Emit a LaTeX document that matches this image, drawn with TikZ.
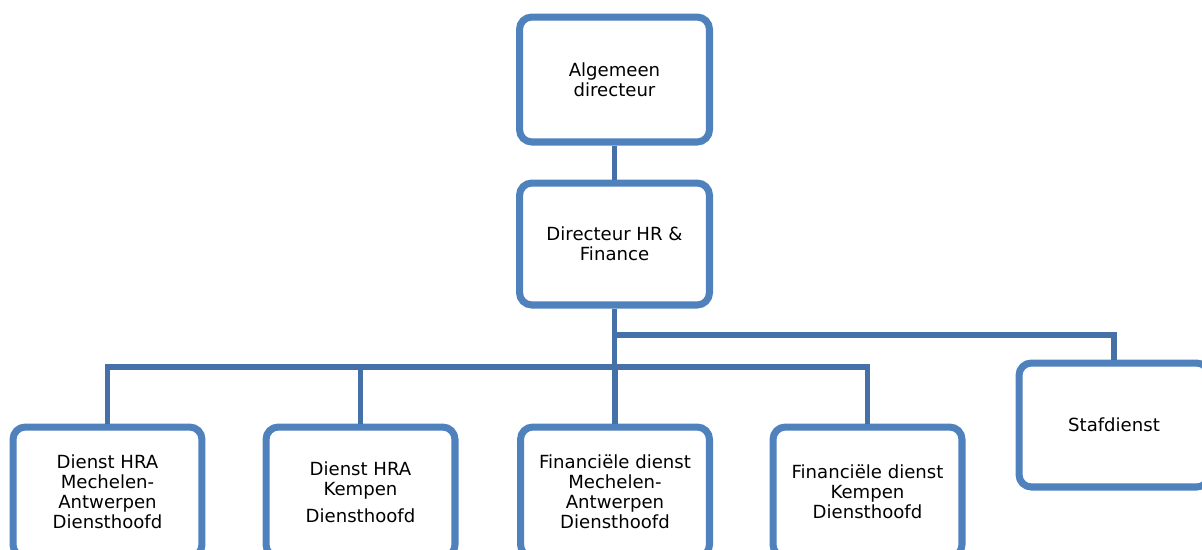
\documentclass[tikz,border=0pt]{standalone}
\usepackage{fontspec}
\setmainfont{DejaVu Sans}
\definecolor{kaderblauw}{HTML}{4F81BD}
\definecolor{lijnblauw}{HTML}{4670A8}
\tikzset{
  functie/.style={draw=kaderblauw, line width=4pt, rounded corners=7pt, fill=white,
    align=center, inner sep=0pt, minimum width=3.8cm, minimum height=2.5cm,
    font=\fontsize{10.3}{11.4}\selectfont},
  lijn/.style={draw=lijnblauw, line width=3.3pt}
}
\begin{document}
\begin{tikzpicture}[x=0.02cm,y=-0.02cm]
    \useasboundingbox (0,0) rectangle (1202,549);
    \clip (0,0) rectangle (1202,549);

    % Directie
    \node[functie] (alg) at (614.5,79.5) {Algemeen\\directeur};
    \node[functie, minimum height=2.44cm] (dir) at (614.5,244) {Directeur HR \&\\Finance};

    % Diensten
    \node[functie, minimum width=3.78cm, minimum height=2.6cm] (hramech) at (107.5,492) {Dienst HRA\\Mechelen-\\Antwerpen\\Diensthoofd};
    \node[functie, minimum width=3.78cm, minimum height=2.6cm] (hrakemp) at (360.5,492) {Dienst HRA\\Kempen\\[4pt]Diensthoofd};
    \node[functie, minimum width=3.78cm, minimum height=2.6cm] (finmech) at (615,492) {Financiële dienst\\Mechelen-\\Antwerpen\\Diensthoofd};
    \node[functie, minimum width=3.78cm, minimum height=2.6cm] (finkemp) at (867.5,492) {Financiële dienst\\Kempen\\Diensthoofd};
    \node[functie, minimum height=2.48cm] (staf) at (1114,425) {Stafdienst};

    % Verbindingen
    \coordinate (tak) at (dir.south |- 0,335);
    \coordinate (bus) at (dir.south |- 0,367);
    \draw[lijn] (alg.south) -- (dir.north);
    \draw[lijn] (dir.south) -- (bus);
    \draw[lijn] (tak) -| (staf.north);
    \foreach \d in {hramech,hrakemp,finmech,finkemp}
        \draw[lijn] (bus) -| (\d.north);
\end{tikzpicture}
\end{document}
